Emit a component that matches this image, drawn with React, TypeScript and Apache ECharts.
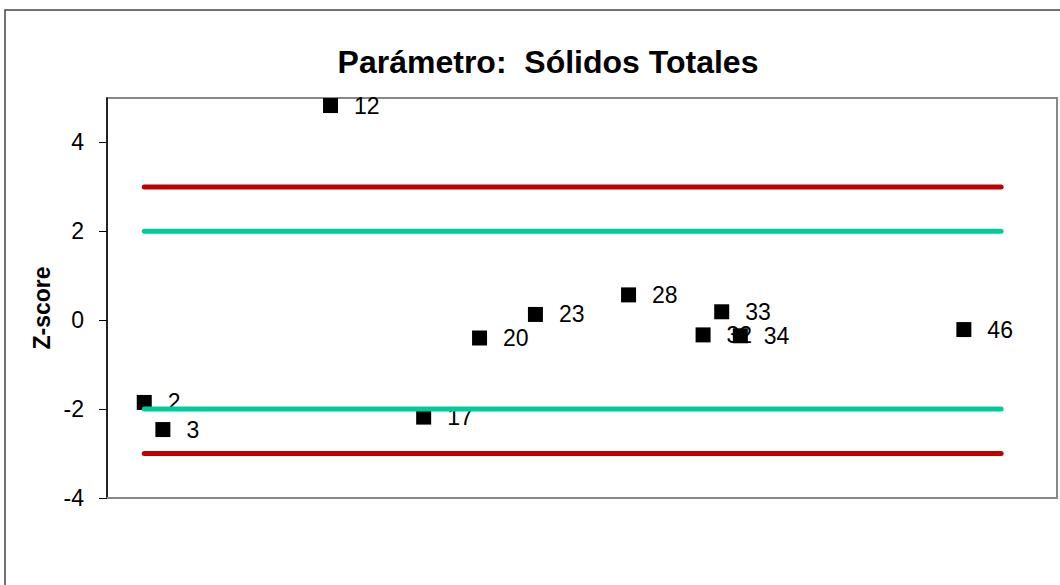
import React, { useEffect, useRef } from "react";
import * as echarts from "echarts";

const labs = [2, 3, 12, 17, 20, 23, 28, 32, 33, 34, 46];
const zScores = [-1.85, -2.46, 4.83, -2.18, -0.4, 0.13, 0.57, -0.33, 0.19, -0.35, -0.21];
const limitX = [2, 48];
const warnLimit = 2;
const actionLimit = 3;
const yTicks = [-4, -2, 0, 2, 4];
const titleText = "Parámetro:  Sólidos Totales";
const yName = "Z-score";

export default function App() {
  const ref = useRef<HTMLDivElement>(null);
  useEffect(() => {
    const chart = echarts.init(ref.current!, null, { renderer: "svg" });
    const font = "Liberation Sans, Arial, sans-serif";
    const hline = (v: number, color: string) => ({
      type: "line",
      data: limitX.map((x) => [x, v]),
      symbol: "none",
      lineStyle: { color, width: 5, cap: "round" },
      z: 5,
      silent: true,
    });
    chart.setOption({
      animation: false,
      backgroundColor: "#fff",
      title: {
        text: titleText,
        left: 543,
        top: 41,
        textAlign: "center",
        textStyle: { fontFamily: font, fontSize: 32, fontWeight: "bold", color: "#000" },
      },
      graphic: [
        {
          type: "rect",
          shape: { x: 5, y: 10, width: 1100, height: 620 },
          style: { fill: "none", stroke: "#444", lineWidth: 1.5 },
          z: -1,
        },
        {
          type: "text",
          x: 42,
          y: 308,
          rotation: Math.PI / 2,
          style: {
            text: yName,
            fontFamily: font,
            fontSize: 23,
            fontWeight: "bold",
            fill: "#000",
            align: "center",
            verticalAlign: "middle",
          },
        },
      ],
      grid: {
        left: 107,
        top: 98,
        right: 3,
        bottom: 87,
        show: true,
        borderColor: "#888",
        borderWidth: 2,
        backgroundColor: "transparent",
      },
      xAxis: {
        type: "value",
        min: 0,
        max: 51,
        axisLine: { show: true, onZero: false, lineStyle: { color: "#888", width: 2 } },
        axisTick: { show: false },
        axisLabel: { show: false },
        splitLine: { show: false },
      },
      yAxis: {
        type: "value",
        min: -4,
        max: 5,
        interval: 2,
        axisLine: { show: true, onZero: false, lineStyle: { color: "#000", width: 1.5 } },
        axisTick: { show: true, length: 8, lineStyle: { color: "#000" }, customValues: yTicks },
        axisLabel: {
          fontFamily: font,
          fontSize: 23,
          color: "#000",
          margin: 23,
          customValues: yTicks,
        },
        splitLine: { show: false },
      },
      series: [
        hline(actionLimit, "#C00000"),
        hline(-actionLimit, "#C00000"),
        hline(warnLimit, "#00CC99"),
        hline(-warnLimit, "#00CC99"),
        {
          type: "scatter",
          data: labs.map((l, i) => [l, zScores[i], l]),
          symbol: "rect",
          symbolSize: 15,
          itemStyle: { color: "#000", opacity: 1 },
          z: 3,
          label: {
            show: true,
            position: "right",
            distance: 16,
            formatter: (p: any) => String(p.value[2]),
            fontFamily: font,
            fontSize: 23,
            color: "#000",
          },
        },
      ],
    });
    return () => chart.dispose();
  }, []);
  return (
    <div style={{ position: "absolute", left: 0, top: 0, width: 1060, height: 585, background: "#fff" }}>
      <div ref={ref} style={{ width: 1060, height: 585 }} />
    </div>
  );
}
